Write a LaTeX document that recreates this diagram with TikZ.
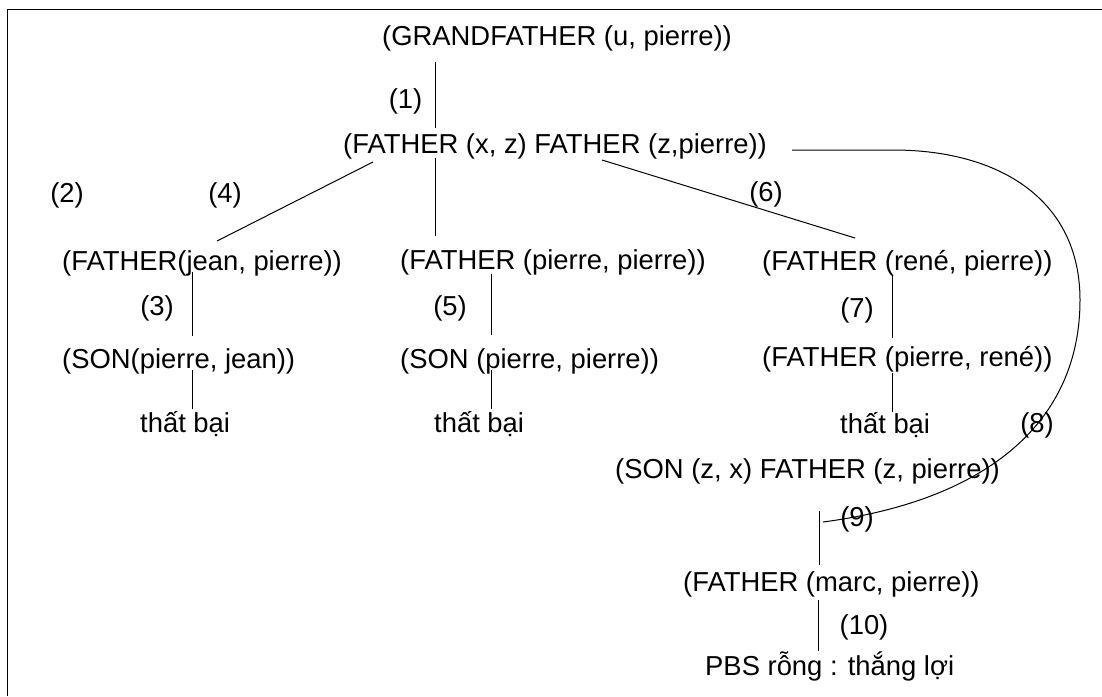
\documentclass[tikz,border=0pt]{standalone}
\usepackage{fontspec}
\setmainfont{Liberation Sans}
\newcommand\diafs{\fontsize{27.4}{32}\selectfont}
\begin{document}
\begin{tikzpicture}[x=1pt,y=-1pt,
  lbl/.style={inner sep=0pt, anchor=base west, font=\diafs},
  num/.style={inner sep=0pt, anchor=center, font=\diafs},
  edge/.style={line width=1pt, line cap=butt},
  frameline/.style={line width=1.8pt}]
\useasboundingbox (0,0) rectangle (1102,696);
% frame (only top and left edges visible)
\coordinate (fbl) at (7.5,696);
\coordinate (ftl) at (7.5,9.5);
\coordinate (ftr) at (1102,9.5);
\draw[frameline] (fbl) -- (ftl) -- (ftr);

% text nodes
\node[lbl] (gf)  at (382,45)  {(GRANDFATHER (u, pierre))};
\node[lbl] (fxz) at (343,153) {(FATHER (x, z) FATHER (z,pierre))};
\node[lbl] (fjp) at (62,270)  {(FATHER(jean, pierre))};
\node[lbl] (fpp) at (400,269) {(FATHER (pierre, pierre))};
\node[lbl] (frp) at (762,270) {(FATHER (rené, pierre))};
\node[lbl] (spj) at (62,368)  {(SON(pierre, jean))};
\node[lbl] (spp) at (400,368) {(SON (pierre, pierre))};
\node[lbl] (fpr) at (762,366) {(FATHER (pierre, rené))};
\node[lbl] (tb1) at (140,432) {thất bại};
\node[lbl] (tb2) at (434,432) {thất bại};
\node[lbl] (tb3) at (840,433) {thất bại};
\node[lbl] (szx) at (615,478) {(SON (z, x) FATHER (z, pierre))};
\node[lbl] (fmp) at (683,591) {(FATHER (marc, pierre))};
\node[lbl] (pbs) at (705,675) {PBS rỗng : thắng lợi};

% step labels
\node[num] (n1)  at (405.5,101) {(1)};
\node[num] (n2)  at (67,195)    {(2)};
\node[num] (n4)  at (225,195)   {(4)};
\node[num] (n6)  at (766,194)   {(6)};
\node[num] (n3)  at (157,308)   {(3)};
\node[num] (n5)  at (450,308)   {(5)};
\node[num] (n7)  at (857,310)   {(7)};
\node[num] (n8)  at (1037,425)  {(8)};
\node[num] (n9)  at (857,519)   {(9)};
\node[num] (n10) at (864,627)   {(10)};

% connector end points
\coordinate (a1) at (435,62);   \coordinate (a2) at (435,128);
\coordinate (b1) at (373,162);  \coordinate (b2) at (217,241);
\coordinate (c1) at (435,158);  \coordinate (c2) at (435,236);
\coordinate (d1) at (602,160);  \coordinate (d2) at (855,238);
\coordinate (e1) at (192,272);  \coordinate (e2) at (192,336);
\coordinate (e3) at (192,370);  \coordinate (e4) at (192,409);
\coordinate (g1) at (491,274);  \coordinate (g2) at (491,335);
\coordinate (g3) at (491,370);  \coordinate (g4) at (491,409);
\coordinate (h1) at (892,275);  \coordinate (h2) at (892,338);
\coordinate (h3) at (892,373);  \coordinate (h4) at (892,412);
\coordinate (k1) at (819,511);  \coordinate (k2) at (819,565);
\coordinate (m1) at (818,600);  \coordinate (m2) at (818,651);
\coordinate (r0) at (792,150);  \coordinate (r1) at (893,150);
\coordinate (r2) at (1080,300); \coordinate (r3) at (823,522);

\draw[edge] (a1) -- (a2);
\draw[edge] (b1) -- (b2);
\draw[edge] (c1) -- (c2);
\draw[edge] (d1) -- (d2);
\draw[edge] (e1) -- (e2);
\draw[edge] (e3) -- (e4);
\draw[edge] (g1) -- (g2);
\draw[edge] (g3) -- (g4);
\draw[edge] (h1) -- (h2);
\draw[edge] (h3) -- (h4);
\draw[edge] (k1) -- (k2);
\draw[edge] (m1) -- (m2);
\draw[edge] (r0) -- (r1) .. controls (1000,150) and (1080,200) .. (r2)
  .. controls (1080,420) and (990,500) .. (r3);
\end{tikzpicture}
\end{document}
